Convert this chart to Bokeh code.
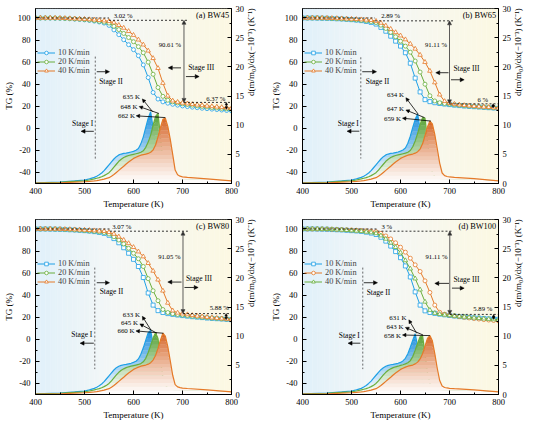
import math
import numpy as np
from bokeh.plotting import figure
from bokeh.models import Range1d, LinearAxis, FixedTicker, Label, Arrow, NormalHead, Legend, LegendItem
from bokeh.layouts import gridplot
from bokeh.embed import file_html
from bokeh.resources import INLINE

FONT = "Liberation Serif"

# ---------------- data ----------------
T_TG = list(range(400, 801, 10))
T_DTG = [400, 450, 480, 500, 510] + list(range(520, 700, 5)) + [700, 710, 750, 800]

TG_A_10 = [100.0, 100.0, 100.0, 99.9, 99.8, 99.7, 99.5, 99.3, 99.0, 98.7, 98.3,
           97.8, 97.2, 96.4, 95.4, 93.3, 89.2, 84.9, 80.3, 75.8, 71.3,
           65.8, 57.5, 46.0, 32.5, 26.5, 24.0, 22.8, 21.8, 21.0, 20.3,
           19.7, 19.2, 18.7, 18.2, 17.8, 17.4, 17.0, 16.6, 16.2, 15.8]
TG_A_20 = [100.0, 100.0, 100.0, 100.0, 99.9, 99.8, 99.6, 99.4, 99.2, 98.9, 98.6,
           98.2, 97.7, 97.0, 96.3, 95.4, 92.5, 89.5, 86.0, 82.3, 78.5,
           74.0, 68.5, 60.0, 49.0, 37.0, 29.0, 25.5, 24.0, 23.0, 22.3,
           21.6, 21.0, 20.4, 19.9, 19.4, 18.9, 18.5, 18.1, 17.7, 17.3]
TG_A_40 = [100.0, 100.0, 100.0, 100.0, 100.0, 99.9, 99.8, 99.6, 99.4, 99.2, 99.0,
           98.7, 98.4, 98.0, 97.6, 97.0, 95.8, 93.5, 91.0, 88.0, 84.5,
           80.3, 75.8, 70.3, 63.5, 54.5, 41.0, 29.5, 25.0, 23.8, 23.0,
           22.4, 21.8, 21.3, 20.8, 20.3, 19.9, 19.5, 19.1, 18.7, 18.3]

TG_B_10 = [100.0, 100.0, 100.0, 99.9, 99.8, 99.7, 99.5, 99.3, 99.1, 98.8, 98.5,
           98.1, 97.6, 96.9, 96.0, 94.5, 91.5, 88.0, 83.5, 79.0, 74.5,
           68.5, 59.0, 45.5, 33.0, 26.0, 24.2, 23.2, 22.5, 22.0, 21.5,
           21.0, 20.6, 20.2, 19.9, 19.6, 19.3, 19.0, 18.7, 18.4, 18.1]
TG_B_20 = [100.0, 100.0, 100.0, 100.0, 99.9, 99.8, 99.6, 99.4, 99.2, 98.9, 98.6,
           98.3, 97.9, 97.4, 96.8, 95.9, 93.5, 90.5, 87.0, 83.0, 79.0,
           74.5, 69.0, 61.0, 51.0, 40.0, 29.5, 24.8, 23.2, 22.5, 22.0,
           21.5, 21.0, 20.6, 20.2, 19.9, 19.6, 19.3, 19.0, 18.7, 18.4]
TG_B_40 = [100.0, 100.0, 100.0, 100.0, 100.0, 99.9, 99.8, 99.7, 99.5, 99.3, 99.1,
           98.9, 98.6, 98.3, 98.0, 97.2, 95.5, 93.0, 90.0, 87.0, 84.0,
           80.5, 76.5, 72.0, 66.5, 60.0, 52.0, 41.5, 30.5, 24.5, 22.8,
           22.0, 21.4, 20.9, 20.5, 20.1, 19.7, 19.4, 19.1, 18.8, 18.5]

TG_C_10 = [100.0, 100.0, 100.0, 99.9, 99.8, 99.7, 99.5, 99.3, 99.1, 98.8, 98.5,
           98.1, 97.6, 96.9, 96.0, 94.3, 91.3, 87.5, 83.0, 78.0, 72.5,
           66.0, 56.0, 42.0, 31.0, 26.0, 24.3, 23.3, 22.6, 22.0, 21.5,
           21.0, 20.5, 20.1, 19.7, 19.3, 19.0, 18.7, 18.4, 18.1, 17.8]
TG_C_20 = [100.0, 100.0, 100.0, 100.0, 99.9, 99.8, 99.6, 99.4, 99.2, 98.9, 98.6,
           98.3, 97.9, 97.4, 96.8, 95.5, 93.0, 90.0, 86.5, 82.5, 78.0,
           73.0, 66.0, 55.0, 44.0, 35.0, 27.0, 24.3, 23.2, 22.5, 22.0,
           21.5, 21.0, 20.5, 20.1, 19.7, 19.3, 19.0, 18.7, 18.4, 18.1]
TG_C_40 = [100.0, 100.0, 100.0, 100.0, 100.0, 99.9, 99.8, 99.7, 99.5, 99.3, 99.1,
           98.9, 98.6, 98.3, 98.0, 97.0, 95.5, 93.0, 90.0, 87.0, 83.5,
           79.5, 75.0, 69.0, 62.0, 54.0, 44.0, 33.0, 26.0, 24.0, 23.2,
           22.5, 21.8, 21.2, 20.6, 20.1, 19.6, 19.2, 18.8, 18.4, 18.0]

TG_D_10 = [100.0, 100.0, 100.0, 99.9, 99.8, 99.7, 99.5, 99.3, 99.1, 98.8, 98.5,
           98.2, 97.8, 97.1, 96.3, 95.0, 92.5, 89.0, 84.5, 79.5, 74.0,
           66.5, 56.5, 43.0, 31.0, 25.8, 24.3, 23.5, 22.8, 22.2, 21.6,
           21.1, 20.6, 20.2, 19.8, 19.5, 19.2, 18.9, 18.6, 18.4, 18.2]
TG_D_20 = [100.0, 100.0, 100.0, 100.0, 100.0, 99.9, 99.8, 99.7, 99.5, 99.3, 99.1,
           98.9, 98.6, 98.3, 98.0, 97.5, 96.0, 93.7, 91.0, 87.5, 83.5,
           79.0, 73.5, 67.5, 61.5, 53.0, 42.5, 31.0, 24.5, 22.8, 22.0,
           21.3, 20.6, 20.0, 19.4, 18.9, 18.4, 17.9, 17.5, 17.1, 16.7]
TG_D_40 = [100.0, 100.0, 100.0, 100.0, 99.9, 99.8, 99.6, 99.4, 99.2, 98.9, 98.6,
           98.3, 97.9, 97.4, 96.8, 96.0, 94.0, 91.0, 87.5, 83.5, 78.5,
           71.5, 64.0, 55.0, 45.0, 34.0, 26.5, 23.8, 22.8, 22.2, 21.7,
           21.2, 20.7, 20.3, 19.9, 19.5, 19.1, 18.7, 18.3, 18.0, 17.7]

DTG_A_10 = [0.10, 0.25, 0.45, 0.60, 0.80,
            1.05, 1.25, 1.50, 1.80, 2.20, 2.70, 3.20, 3.70, 4.20, 4.60,
            4.90, 5.05, 5.15, 5.20, 5.30, 5.40, 5.50, 5.70, 6.00, 6.80,
            8.00, 9.60, 11.20, 12.30, 9.50, 6.50, 3.00, 1.60, 1.20, 1.00,
            0.92, 0.88, 0.85, 0.82, 0.80, 0.78,
            0.75, 0.70, 0.55, 0.30]
DTG_A_20 = [0.08, 0.18, 0.35, 0.45, 0.60,
            0.78, 0.90, 1.00, 1.15, 1.35, 1.60, 1.85, 2.30, 2.80, 3.30,
            3.80, 4.15, 4.45, 4.65, 4.80, 4.90, 5.00, 5.10, 5.20, 5.35,
            5.60, 6.20, 7.10, 8.30, 10.00, 11.50, 12.00, 8.00, 4.00, 2.00,
            1.20, 0.95, 0.90, 0.86, 0.83, 0.80,
            0.78, 0.72, 0.58, 0.32]
DTG_A_40 = [0.05, 0.12, 0.22, 0.30, 0.36,
            0.45, 0.50, 0.57, 0.65, 0.75, 0.88, 1.00, 1.25, 1.55, 1.90,
            2.25, 2.60, 2.95, 3.35, 3.70, 4.00, 4.30, 4.50, 4.70, 4.85,
            4.95, 5.05, 5.15, 5.35, 5.75, 6.60, 8.00, 9.60, 11.00, 11.20,
            9.80, 7.60, 5.00, 2.30, 1.50, 1.25,
            1.15, 1.05, 0.80, 0.45]

DTG_B_10 = [0.10, 0.25, 0.45, 0.60, 0.80,
            1.05, 1.25, 1.50, 1.80, 2.20, 2.70, 3.20, 3.70, 4.20, 4.60,
            4.90, 5.05, 5.15, 5.20, 5.30, 5.40, 5.55, 5.75, 6.10, 6.90,
            8.10, 9.60, 11.00, 11.90, 9.30, 6.00, 2.80, 1.50, 1.15, 1.00,
            0.92, 0.88, 0.85, 0.82, 0.80, 0.77,
            0.75, 0.70, 0.55, 0.30]
DTG_B_20 = [0.08, 0.18, 0.35, 0.45, 0.60,
            0.78, 0.90, 1.00, 1.15, 1.35, 1.60, 1.85, 2.30, 2.80, 3.30,
            3.80, 4.15, 4.45, 4.65, 4.80, 4.90, 5.00, 5.10, 5.20, 5.35,
            5.65, 6.30, 7.30, 8.60, 10.10, 11.30, 11.20, 7.50, 3.80, 1.90,
            1.20, 0.95, 0.88, 0.85, 0.82, 0.80,
            0.78, 0.72, 0.58, 0.32]
DTG_B_40 = [0.05, 0.12, 0.22, 0.30, 0.36,
            0.45, 0.50, 0.57, 0.65, 0.75, 0.88, 1.00, 1.25, 1.55, 1.90,
            2.25, 2.60, 2.95, 3.35, 3.70, 4.00, 4.30, 4.50, 4.70, 4.85,
            4.95, 5.05, 5.20, 5.45, 5.90, 6.80, 8.20, 9.70, 10.70, 10.20,
            8.40, 6.00, 3.50, 1.80, 1.35, 1.20,
            1.12, 1.05, 0.82, 0.45]

DTG_C_10 = [0.10, 0.25, 0.45, 0.60, 0.80,
            1.05, 1.25, 1.50, 1.80, 2.20, 2.70, 3.20, 3.70, 4.20, 4.60,
            4.85, 5.00, 5.10, 5.15, 5.25, 5.35, 5.50, 5.70, 6.10, 6.90,
            8.00, 9.30, 10.60, 11.00, 8.60, 5.00, 2.40, 1.40, 1.10, 0.98,
            0.90, 0.86, 0.83, 0.80, 0.78, 0.76,
            0.74, 0.70, 0.55, 0.30]
DTG_C_20 = [0.08, 0.18, 0.35, 0.45, 0.60,
            0.78, 0.90, 1.00, 1.15, 1.35, 1.60, 1.90, 2.35, 2.85, 3.35,
            3.80, 4.15, 4.40, 4.60, 4.75, 4.85, 4.95, 5.05, 5.15, 5.30,
            5.60, 6.20, 7.20, 8.40, 9.70, 10.60, 9.60, 6.00, 3.00, 1.60,
            1.15, 0.95, 0.88, 0.85, 0.82, 0.80,
            0.78, 0.72, 0.58, 0.32]
DTG_C_40 = [0.05, 0.12, 0.22, 0.30, 0.36,
            0.45, 0.50, 0.57, 0.65, 0.75, 0.88, 1.00, 1.25, 1.55, 1.90,
            2.25, 2.60, 2.95, 3.35, 3.70, 4.00, 4.30, 4.50, 4.70, 4.85,
            4.95, 5.05, 5.20, 5.45, 5.90, 6.70, 7.90, 9.30, 10.50, 10.00,
            8.20, 5.80, 3.30, 1.70, 1.30, 1.18,
            1.10, 1.03, 0.80, 0.45]

DTG_D_10 = [0.10, 0.25, 0.45, 0.60, 0.80,
            1.05, 1.28, 1.55, 1.90, 2.30, 2.80, 3.30, 3.80, 4.25, 4.60,
            4.85, 5.00, 5.10, 5.15, 5.25, 5.35, 5.50, 5.75, 6.20, 7.00,
            8.10, 9.30, 10.40, 8.20, 4.60, 2.20, 1.40, 1.15, 1.02, 0.95,
            0.90, 0.86, 0.83, 0.80, 0.78, 0.76,
            0.74, 0.70, 0.55, 0.30]
DTG_D_20 = [0.05, 0.12, 0.22, 0.30, 0.36,
            0.45, 0.50, 0.57, 0.65, 0.75, 0.88, 1.00, 1.25, 1.55, 1.90,
            2.25, 2.60, 2.95, 3.35, 3.70, 4.00, 4.30, 4.50, 4.70, 4.85,
            4.95, 5.05, 5.25, 5.55, 6.10, 7.00, 8.30, 9.60, 10.10, 9.20,
            7.00, 4.50, 2.40, 1.45, 1.20, 1.12,
            1.06, 1.00, 0.78, 0.45]
DTG_D_40 = [0.08, 0.18, 0.35, 0.45, 0.60,
            0.78, 0.90, 1.00, 1.15, 1.35, 1.60, 1.90, 2.35, 2.85, 3.35,
            3.80, 4.15, 4.40, 4.60, 4.75, 4.85, 5.00, 5.10, 5.25, 5.45,
            5.80, 6.50, 7.60, 8.80, 9.90, 10.10, 7.00, 3.80, 1.90, 1.20,
            0.98, 0.90, 0.86, 0.83, 0.80, 0.78,
            0.76, 0.72, 0.58, 0.32]

RATE_LABELS = ["10 K/min", "20 K/min", "40 K/min"]
TITLES = ["(a) BW45", "(b) BW65", "(c) BW80", "(d) BW100"]
PCT_TOP = ["3.02 %", "2.89 %", "3.07 %", "3 %"]
PCT_MID = ["90.61 %", "91.11 %", "91.05 %", "91.11 %"]
PCT_BOT = ["6.37 %", "6 %", "5.88 %", "5.89 %"]
PEAKS = [["635 K", "648 K", "662 K"], ["634 K", "647 K", "659 K"],
         ["633 K", "645 K", "660 K"], ["631 K", "643 K", "658 K"]]

X_TICKS = [400, 500, 600, 700, 800]
TG_TICKS = [-40, -20, 0, 20, 40, 60, 80, 100]
DTG_TICKS = [0, 5, 10, 15, 20, 25, 30]

# ---------------- style ----------------
BLUE, GREEN, ORANGE = "#1fa0e6", "#6aae3c", "#e57a28"
FILL = {BLUE: (25, 140, 220), GREEN: (85, 160, 55), ORANGE: (214, 100, 38)}
NB = 16


def mix(base, f):
    return "#%02x%02x%02x" % tuple(int(round(255 * (1 - f) + b * f)) for b in base)


def bg_color(t):
    stops = [(400, (224, 240, 250)), (560, (244, 247, 246)), (800, (252, 248, 226))]
    for (t0, c0), (t1, c1) in zip(stops[:-1], stops[1:]):
        if t <= t1:
            f = (t - t0) / (t1 - t0)
            return "#%02x%02x%02x" % tuple(int(round(a + (b - a) * f)) for a, b in zip(c0, c1))
    return "#%02x%02x%02x" % stops[-1][1]


def style_axis(ax, label_standoff, tick_standoff):
    ax.axis_line_color = "black"
    ax.major_tick_in = 4
    ax.major_tick_out = 0
    ax.minor_tick_in = 2
    ax.minor_tick_out = 0
    ax.major_tick_line_color = "black"
    ax.minor_tick_line_color = "black"
    ax.major_label_text_font = FONT
    ax.major_label_text_font_size = "8.5px"
    ax.major_label_text_color = "black"
    ax.axis_label_text_font = FONT
    ax.axis_label_text_font_size = "9px"
    ax.axis_label_text_font_style = "normal"
    ax.axis_label_text_color = "black"
    ax.axis_label_standoff = label_standoff
    ax.major_label_standoff = tick_standoff


def build(idx, tg_series, dtg_series, g):
    p = figure(width=267, height=211, x_range=Range1d(400, 800), y_range=Range1d(-50, 108.6),
               output_backend="svg", toolbar_location=None,
               min_border_left=31, min_border_right=36, min_border_top=8, min_border_bottom=27)
    p.extra_y_ranges = {"dtg": Range1d(0, 30)}
    p.grid.visible = False
    p.outline_line_color = "black"
    p.outline_line_width = 1
    p.background_fill_color = "white"

    p.xaxis.axis_label = "Temperature (K)"
    p.xaxis.ticker = FixedTicker(ticks=X_TICKS, minor_ticks=[450, 550, 650, 750])
    style_axis(p.xaxis[0], 2, 4)
    p.yaxis.axis_label = "TG (%)"
    p.yaxis.ticker = FixedTicker(ticks=TG_TICKS, minor_ticks=[-30, -10, 10, 30, 50, 70, 90])
    p.yaxis[0].major_label_overrides = {-40: "-40", -20: "-20"}
    style_axis(p.yaxis[0], 1, 5)
    rax = LinearAxis(y_range_name="dtg",
                     axis_label="d(m/m\u2080)/dx(\u221210\u207b\u00b3) (K\u207b\u00b9)",
                     ticker=FixedTicker(ticks=DTG_TICKS, minor_ticks=[2.5, 7.5, 12.5, 17.5, 22.5, 27.5]))
    style_axis(rax, 4, 4)
    try:
        rax.axis_label_orientation = math.pi / 2
    except Exception:
        pass
    p.add_layout(rax, "right")

    # background gradient
    edges = np.linspace(400, 800, 81)
    centers = (edges[:-1] + edges[1:]) / 2
    p.quad(left=edges[:-1], right=edges[1:] + 0.6, bottom=-50, top=108.6,
           fill_color=[bg_color(c) for c in centers], line_color=None)

    # DTG curves with vertical gradient fill
    for vals, col in dtg_series:
        d = np.array(vals, dtype=float)
        lv = np.linspace(0, d.max(), NB + 1)
        for k in range(NB):
            f = ((k + 0.5) / NB) ** 1.15
            p.varea(x=T_DTG, y1=np.minimum(d, lv[k]), y2=np.minimum(d, lv[k + 1] + 0.04),
                    fill_color=mix(FILL[col], f), y_range_name="dtg")
        p.line(T_DTG, d, line_color=col, line_width=1.2, y_range_name="dtg")

    # TG curves
    items = []
    for vals, col, mk, lab in tg_series:
        r1 = p.line(T_TG, vals, line_color=col, line_width=1)
        r2 = p.scatter(T_TG, vals, marker=mk, size=4.5 if mk == "triangle" else 4,
                       line_color=col, fill_color="white", line_width=0.8)
        items.append(LegendItem(label=lab, renderers=[r1, r2]))
    leg = Legend(items=items, location=(2, 108), background_fill_alpha=0, border_line_alpha=0,
                 label_text_font=FONT, label_text_font_size="8.3px", glyph_width=18, glyph_height=9,
                 label_height=9, spacing=0, padding=0, margin=0, label_standoff=3)
    p.add_layout(leg)

    def lab(x, y, text, size, align="center", rng=None):
        kw = dict(x=x, y=y, text=text, text_font=FONT, text_font_size=size,
                  text_align=align, text_baseline="middle", text_color="black")
        if rng:
            kw["y_range_name"] = rng
        p.add_layout(Label(**kw))

    def arrow(x0, y0, x1, y1, rng=None, both=False, size=4, color="black"):
        kw = dict(x_start=x0, y_start=y0, x_end=x1, y_end=y1, line_color=color, line_width=0.8,
                  end=NormalHead(size=size, fill_color=color, line_color=color, line_width=0.5))
        if both:
            kw["start"] = NormalHead(size=size, fill_color=color, line_color=color, line_width=0.5)
        if rng:
            kw["y_range_name"] = rng
        p.add_layout(Arrow(**kw))

    lab(795, 102, TITLES[idx], "8.3px", "right")
    # top mass-loss annotation
    p.segment(x0=[400, g["split"]], y0=[100, g["low"]], x1=[g["split"], g["top_end"]],
              y1=[100, g["low"]], line_color="black", line_width=0.8, line_dash="2 2")
    lab(g["pct_top_x"], 101.9, PCT_TOP[idx], "6.7px")
    arrow(g["ax"], g["low"], g["ax"], g["mid_bot"], both=True, color="#333333")
    lab(g["pct_mid"][0], g["pct_mid"][1], PCT_MID[idx], "6.7px", "right")
    # bottom residual annotation
    p.segment(x0=[g["ax"]], y0=[g["mid_bot"]], x1=[800], y1=[g["mid_bot"]],
              line_color="black", line_width=0.8, line_dash="2 2")
    lab(g["pct_bot"][0], g["pct_bot"][1], PCT_BOT[idx], "6.7px")
    arrow(g["sax"], g["mid_bot"], g["sax"], g["end_lvl"], both=True, size=2.5)
    # stage III
    arrow(g["s3l"][0], g["s3l"][2], g["s3l"][1], g["s3l"][2])
    arrow(g["s3r"][0], g["s3r"][2], g["s3r"][1], g["s3r"][2])
    lab(g["s3t"][0], g["s3t"][1], "Stage III", "7.5px", "left")
    # stage I / II
    p.segment(x0=[g["s2x"]], y0=[g["s2y"][0]], x1=[g["s2x"]], y1=[g["s2y"][1]],
              line_color="#444444", line_width=0.8, line_dash="2 2")
    arrow(g["s2a"][0], g["s2a"][2], g["s2a"][1], g["s2a"][2])
    lab(g["s2t"][0], g["s2t"][1], "Stage II", "7.5px", "left")
    lab(g["s1t"][0], g["s1t"][1], "Stage I", "7.5px", "right")
    arrow(g["s1a"][0], g["s1a"][2], g["s1a"][1], g["s1a"][2])
    # peak labels
    for txt, (tx, ty, hx, hy, px, py) in zip(PEAKS[idx], g["peaks"]):
        lab(tx, ty, txt, "6.9px", "right", rng="dtg")
        arrow(px, py, hx, hy, rng="dtg", size=3.5)
    return p


GEO = [
    dict(split=550, top_end=713, low=97.9, ax=703, mid_bot=23.5, end_lvl=17.2, pct_top_x=579,
         pct_mid=(697, 76), s3l=(697, 671, 54.8), s3r=(707, 734, 46.9), s3t=(711.6, 55),
         pct_bot=(768, 27), sax=789.5, s2x=522, s2y=(65, -27.5), s2a=(525, 551, 51.3),
         s2t=(530, 42.5), s1t=(517.6, 4.1), s1a=(519, 493, -2.7),
         peaks=[(613, 14.9, 618, 14.5, 639, 12.3), (608, 13.25, 611.5, 13.2, 652, 12.0),
                (603, 11.6, 605.5, 11.6, 665, 11.3)]),
    dict(split=548, top_end=711, low=97.4, ax=700, mid_bot=22.2, end_lvl=18.5, pct_top_x=580,
         pct_mid=(695, 76), s3l=(698, 672, 50.4), s3r=(703, 730, 44), s3t=(708, 54.2),
         pct_bot=(768, 26.5), sax=789, s2x=519, s2y=(64.4, -27.4), s2a=(522, 551, 51.3),
         s2t=(529, 42.6), s1t=(515, 4.7), s1a=(516, 491, -2.6),
         peaks=[(607, 15.2, 611, 14.7, 636, 11.9), (607, 12.8, 611, 12.6, 649, 11.3),
                (601, 11.2, 604, 11.2, 662, 10.7)]),
    dict(split=552, top_end=711, low=98.0, ax=701, mid_bot=23.3, end_lvl=17.8, pct_top_x=576,
         pct_mid=(696, 75.2), s3l=(698, 670, 51.9), s3r=(704, 732, 47), s3t=(707, 54.8),
         pct_bot=(775, 28.5), sax=789, s2x=521, s2y=(65, -27), s2a=(525, 551, 51.3),
         s2t=(531, 43.1), s1t=(516, 4.4), s1a=(519, 491, -3.5),
         peaks=[(613, 13.8, 618, 13.4, 636, 11.0), (609, 12.4, 613, 12.1, 648, 10.5),
                (602, 10.9, 605, 10.9, 661, 10.5)]),
    dict(split=553, top_end=708, low=98.0, ax=700.6, mid_bot=22.6, end_lvl=18.0, pct_top_x=572,
         pct_mid=(696, 75.4), s3l=(699, 670, 50.7), s3r=(705, 730, 46.4), s3t=(708, 54.2),
         pct_bot=(768, 27.5), sax=790, s2x=523, s2y=(65, -27), s2a=(525, 553, 51.3),
         s2t=(531, 42.6), s1t=(517, 3.8), s1a=(518, 493, -3.5),
         peaks=[(612, 13.2, 617, 12.8, 633, 10.5), (606, 11.7, 610, 11.5, 646, 10.2),
                (601, 10.2, 604, 10.2, 660, 10.1)]),
]

pa = build(0, [(TG_A_10, BLUE, "circle", RATE_LABELS[0]), (TG_A_20, GREEN, "circle", RATE_LABELS[1]),
               (TG_A_40, ORANGE, "triangle", RATE_LABELS[2])],
           [(DTG_A_10, BLUE), (DTG_A_20, GREEN), (DTG_A_40, ORANGE)], GEO[0])
pb = build(1, [(TG_B_10, BLUE, "square", RATE_LABELS[0]), (TG_B_20, GREEN, "circle", RATE_LABELS[1]),
               (TG_B_40, ORANGE, "triangle", RATE_LABELS[2])],
           [(DTG_B_10, BLUE), (DTG_B_20, GREEN), (DTG_B_40, ORANGE)], GEO[1])
pc = build(2, [(TG_C_10, BLUE, "square", RATE_LABELS[0]), (TG_C_20, GREEN, "circle", RATE_LABELS[1]),
               (TG_C_40, ORANGE, "triangle", RATE_LABELS[2])],
           [(DTG_C_10, BLUE), (DTG_C_20, GREEN), (DTG_C_40, ORANGE)], GEO[2])
pd_ = build(3, [(TG_D_10, BLUE, "square", RATE_LABELS[0]), (TG_D_20, ORANGE, "circle", RATE_LABELS[1]),
                (TG_D_40, GREEN, "triangle", RATE_LABELS[2])],
            [(DTG_D_10, BLUE), (DTG_D_40, GREEN), (DTG_D_20, ORANGE)], GEO[3])

grid = gridplot([[pa, pb], [pc, pd_]], toolbar_location=None)
open("out.html", "w").write(file_html(grid, INLINE))
